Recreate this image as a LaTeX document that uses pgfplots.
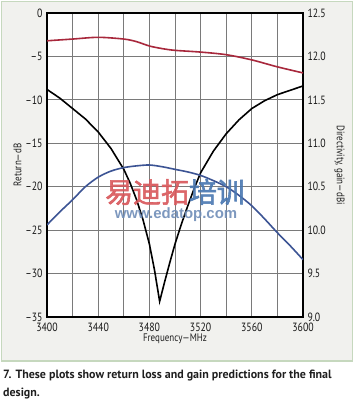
\documentclass[border=0pt]{standalone}
\usepackage{pgfplots}
\pgfplotsset{compat=1.18}
\usepackage{fontspec}
\setmainfont{PT Sans}
\newfontfamily\condfont[FakeStretch=0.82]{PT Sans}
\newfontfamily\cjk[FakeBold=2]{Noto Sans CJK SC}
\newfontfamily\wmfont{Liberation Sans}
\definecolor{rlred}{HTML}{A8283C}
\definecolor{gainblue}{HTML}{3C5494}
\definecolor{panelbg}{HTML}{F1F1EE}
\definecolor{panelborder}{HTML}{C6D8BE}
\definecolor{wmred}{HTML}{D9585C}
\definecolor{wmblue}{HTML}{4A78B2}
\definecolor{wmgray}{HTML}{6F8DB8}
\begin{document}
\begin{tikzpicture}
\useasboundingbox (-47bp,-83bp) rectangle (307bp,317bp);
\fill[panelbg, draw=panelborder, line width=1.2bp] (-45.5bp,315.5bp) rectangle (305.5bp,-44bp);
\begin{axis}[
  at={(0,0)}, anchor=south west, scale only axis,
  width=256bp, height=304bp,
  xmin=3400, xmax=3600, ymin=-35, ymax=0,
  xtick={3400,3440,3480,3520,3560,3600},
  xticklabels={3400,3440,3480,3520,3560,3600},
  minor xtick={3420,3460,3500,3540,3580},
  ytick={-35,-30,-25,-20,-15,-10,-5,0},
  yticklabels={–35,–30,–25,–20,–15,–10,–5,0},
  grid=both,
  major grid style={black!52, line width=1bp},
  minor grid style={black!52, line width=1bp},
  major tick length=0pt, minor tick length=0pt,
  axis line style={black, line width=1.3bp},
  axis background/.style={fill=white},
  tick label style={font=\condfont\fontsize{12}{13}\selectfont, text=black!90},
  xticklabel style={yshift=-2.5bp},
  yticklabel style={xshift=-1bp},
  label style={font=\condfont\fontsize{11}{12}\selectfont, text=black!88},
  xlabel={Frequency—MHz},
  ylabel={Return—dB},
  xlabel style={yshift=5bp},
  ylabel style={yshift=-3bp},
]
\addplot[black, line width=1.6bp] coordinates {
(3400,-8.8) (3410,-9.8) (3420,-11.0) (3430,-12.2) (3440,-13.7) (3450,-15.6)
(3460,-18.0) (3465,-19.6) (3470,-21.5) (3475,-23.8) (3480,-26.6) (3484,-29.6)
(3488,-33.2) (3492,-30.9) (3496,-28.7) (3500,-26.6) (3505,-24.3) (3510,-22.2)
(3515,-20.2) (3520,-18.4) (3530,-15.9) (3540,-13.9) (3550,-12.3) (3560,-11.0)
(3570,-10.1) (3580,-9.4) (3590,-8.9) (3600,-8.4)
};
\end{axis}
\begin{axis}[
  at={(0,0)}, anchor=south west, scale only axis,
  width=256bp, height=304bp,
  xmin=3400, xmax=3600, ymin=9, ymax=12.5,
  axis y line*=right, axis x line=none,
  ytick={9,9.5,10,10.5,11,11.5,12,12.5},
  yticklabels={9.0,9.5,10.0,10.5,11.0,11.5,12.0,12.5},
  major tick length=0pt,
  axis line style={black, line width=1.3bp},
  tick label style={font=\condfont\fontsize{12}{13}\selectfont, text=black!90},
  yticklabel style={xshift=1bp},
  label style={font=\condfont\fontsize{11}{12}\selectfont, text=black!88},
  ylabel={Directivity, gain—dBi},
  ylabel style={rotate=180, yshift=2bp},
]
\addplot[rlred, line width=1.6bp, smooth] coordinates {
(3400,12.18) (3420,12.20) (3440,12.22) (3460,12.20) (3470,12.17) (3480,12.12)
(3490,12.09) (3500,12.07) (3520,12.05) (3540,12.02) (3560,11.96) (3580,11.88) (3600,11.81)
};
\addplot[gainblue, line width=1.6bp, smooth] coordinates {
(3400,10.06) (3410,10.21) (3420,10.35) (3430,10.50) (3440,10.61) (3450,10.68)
(3460,10.72) (3470,10.74) (3480,10.75) (3490,10.73) (3500,10.70) (3510,10.67)
(3520,10.63) (3530,10.57) (3540,10.50) (3550,10.40) (3560,10.28) (3570,10.13)
(3580,9.97) (3590,9.82) (3600,9.66)
};
\end{axis}
\node[inner sep=0, font=\cjk\fontsize{28}{28}\selectfont, opacity=0.9] at (128bp,125bp)
  {\textcolor{wmred}{易迪拓}\textcolor{wmblue}{培训}};
\node[inner sep=0, font=\wmfont\bfseries\fontsize{15}{15}\selectfont, text=wmgray, opacity=0.9] at (129bp,102.5bp)
  {www.edatop.com};
\node[anchor=base west, inner sep=0, font=\bfseries\fontsize{12}{13}\selectfont, text=black!88] at (-44bp,-61bp)
  {7. These plots show return loss and gain predictions for the final};
\node[anchor=base west, inner sep=0, font=\bfseries\fontsize{12}{13}\selectfont, text=black!88] at (-44bp,-79bp)
  {design.};
\end{tikzpicture}
\end{document}
